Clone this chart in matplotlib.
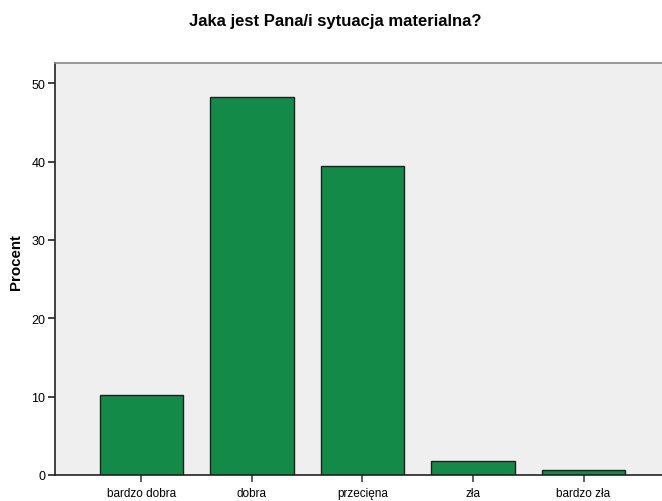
import matplotlib.pyplot as plt
import numpy as np

plt.rcParams['font.family'] = ['Liberation Sans', 'DejaVu Sans']

# dane
kategorie = ['bardzo dobra', 'dobra', 'przecięna', 'zła', 'bardzo zła']
procent = [10.2, 48.2, 39.4, 1.8, 0.6]

fig = plt.figure(figsize=(6.62, 5.02), dpi=100)
ax = fig.add_axes([0.0831, 0.0522, 0.9169, 0.8203])
ax.set_facecolor('#efefef')

x = np.arange(len(kategorie))
ax.bar(x, procent, width=0.755, color='#138a48', edgecolor='#1f1f1f', linewidth=1.0, zorder=2)

ax.set_xlim(-0.78, 4.71)
ax.set_ylim(0, 52.6)
ax.set_xticks(x)
ax.set_xticklabels(kategorie, fontsize=8.5)
ax.set_yticks([0, 10, 20, 30, 40, 50])
ax.tick_params(axis='y', labelsize=9, length=5, width=1.2, color='#222222', pad=2)
ax.tick_params(axis='x', length=5, width=1.2, color='#444444', pad=4)

ax.spines['right'].set_visible(False)
ax.spines['top'].set_color('#888888')
ax.spines['top'].set_linewidth(1.2)
ax.spines['left'].set_color('#222222')
ax.spines['left'].set_linewidth(1.2)
ax.spines['bottom'].set_color('#222222')
ax.spines['bottom'].set_linewidth(1.2)

ax.set_ylabel('Procent', fontsize=10.8, fontweight='bold')
ax.yaxis.set_label_coords(-0.053, 0.518)
fig.text(0.506, 0.948, 'Jaka jest Pana/i sytuacja materialna?', ha='center', va='baseline',
         fontsize=12, fontweight='bold')

plt.savefig('out.png', dpi=100)
